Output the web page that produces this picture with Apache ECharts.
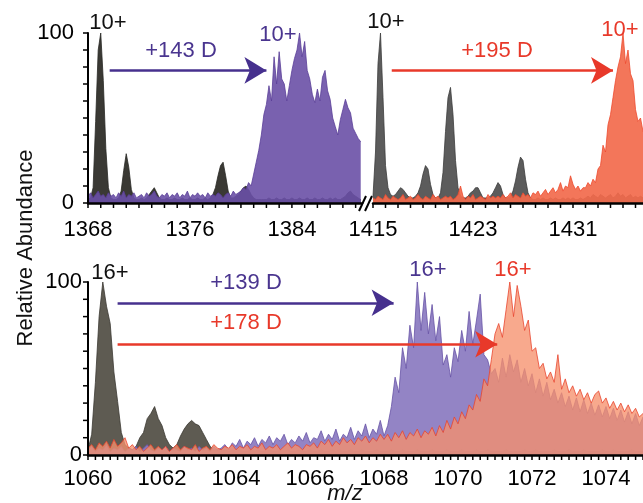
<!DOCTYPE html>
<html>
<head>
<meta charset="utf-8">
<script src="https://cdn.jsdelivr.net/npm/echarts@6/dist/echarts.min.js"></script>
<style>
  html, body { margin: 0; padding: 0; background: #fff; }
  #chart { width: 643px; height: 503px; }
</style>
</head>
<body>
<div id="chart"></div>
<script>
'use strict';

// 谱图数据 — 每个数组按固定步长从起点开始
var tlStart = 1368, tlStep = 0.2;
var tlBlack = [
  2,3,9,48,90,100,72,32,9,3,
  2,2,3,7,19,29,21,8,3,2,
  2,3,2,3,5,7,9,6,3,2,
  2,3,2,2,3,2,2,3,2,2,
  3,2,2,3,2,2,3,2,3,5,
  9,16,22,24,16,7,3,3,4,5,
  7,9,10,8,5,3,2,2,2,2,
  2,3,2,2,3,2,2,3,2,2,
  3,2,2,3,2,2,3,2,2,3,
  2,2,3,2,2,3,2,3,2,2,
  3,4,6,7,5,4,3,2
];
var tlPurple = [
  4,6,3,5,7,4,5,3,6,4,
  5,3,6,4,7,3,5,4,6,3,
  4,5,3,6,4,5,7,4,3,5,
  4,6,3,5,4,6,3,5,4,7,
  3,5,4,6,4,5,3,6,4,5,
  4,6,5,3,5,6,4,7,5,6,
  7,9,8,12,10,17,24,31,40,52,
  58,69,60,86,70,89,73,70,60,69,
  78,85,90,100,86,95,78,73,64,59,
  67,60,74,78,66,61,50,45,40,49,
  55,61,56,53,44,41,38,36
];

var trStart = 1415, trStep = 0.2;
var trBlack = [
  4,30,82,100,62,22,9,5,4,5,
  7,9,8,6,4,3,3,4,6,10,
  17,22,20,11,5,3,3,6,18,42,
  62,68,52,25,9,4,3,3,4,6,
  7,9,9,6,3,3,3,4,6,9,
  12,10,5,3,3,4,7,13,21,27,
  25,14,6,3,2,2,3,2,3,2,
  2,3,2,3,2,2,3,2,3,2,
  3,2,2,3,2,3,4,3,5,4,
  3,5,4,3,4,5,3,4,6,4,
  5,3,4,5,3,4,3,4,3
];
var trRed = [
  3,2,4,3,2,5,3,2,4,3,
  2,3,5,2,3,4,2,3,5,3,
  2,4,3,2,5,3,4,2,3,4,
  3,4,2,3,5,10,4,2,4,3,
  5,2,3,4,3,2,5,3,4,3,
  4,3,5,3,4,6,3,5,4,3,
  6,4,5,3,6,5,7,4,6,8,
  5,7,9,6,8,12,7,10,9,16,
  11,8,10,7,9,9,12,10,14,12,
  20,22,34,30,46,52,62,72,80,86,
  100,82,90,76,72,55,48,50,42
];

var btStart = 1060, btStep = 0.1;
var btBlack = [
  3,12,42,80,100,86,76,48,31,13,
  6,4,3,5,10,13,21,24,28,21,
  17,10,6,4,6,11,15,18,20,18,
  17,13,9,5,3,3,2,3,2,3,
  2,3,2,2,3,2,3,2,2,3,
  2,2,3,2,3,2,2,3,2,2,
  3,2,2,3,2,2,3,2,3,2,
  2,3,2,2,3,2,2,2,3,2,
  2,2,3,2,2,3,2,2,2,3,
  2,2,2,3,2,2,2,3,2,2,
  2,3,2,2,2,3,2,2,3,2,
  2,2,2,3,2,2,2,2,3,2,
  2,3,2,2,2,2,3,2,2,2,
  3,2,2,2,3,2,2,2,2,3,
  2,2,3,2,2,2,2,3,2,2,
  2
];
var btPurple = [
  3,5,2,4,3,6,2,4,3,5,
  2,4,3,5,2,4,6,3,2,4,
  3,5,2,4,3,2,5,3,4,2,
  5,3,4,2,5,3,4,6,3,7,
  5,9,4,8,6,10,5,9,7,11,
  6,10,8,12,6,9,7,11,8,13,
  7,10,9,14,8,12,9,15,8,12,
  10,16,9,14,11,18,10,15,12,20,
  11,17,28,45,36,62,50,75,62,100,
  72,94,70,87,66,80,52,58,45,62,
  54,72,60,83,64,78,93,58,55,47,
  50,42,56,45,58,48,55,42,50,40,
  47,36,44,34,42,32,38,30,36,28,
  34,26,33,25,32,24,30,23,29,22,
  28,21,27,20,26,19,25,18,24,17,
  22
];
var btRed = [
  4,6,3,7,5,8,4,9,5,7,
  10,4,6,3,5,2,4,6,3,5,
  3,5,2,4,6,3,5,4,3,6,
  2,4,5,3,6,4,3,5,4,6,
  3,5,4,6,3,5,4,7,3,5,
  4,6,3,5,7,4,6,5,3,6,
  5,7,4,8,6,9,5,8,6,10,
  7,9,6,10,8,11,7,10,8,12,
  9,12,8,13,10,14,9,13,11,15,
  10,14,12,16,11,17,13,20,15,22,
  18,25,21,29,26,35,31,44,40,55,
  70,76,68,84,100,80,98,86,72,78,
  60,62,50,53,44,48,42,58,38,44,
  36,40,34,38,32,36,30,35,37,30,
  33,27,31,26,30,25,29,24,27,22,
  24
];

// 箭头 (m/z 起点, m/z 箭尖, 高度)
var arrowTL = [1369.7, 1382.0, 78];
var arrowTR = [1416.5, 1434.2, 78];
var arrowBP = [1060.8, 1068.26, 88];
var arrowBR = [1060.8, 1071.06, 64];

// 刻度 (轴, 序号, 起点, 终点, 步长)
var tickSpecs = [
  ['x', 0, 1368, 1389.5, 1],
  ['x', 1, 1415, 1436.6, 1],
  ['x', 2, 1060, 1075, 0.2],
  ['y', 0, 0, 100, 10],
  ['y', 2, 0, 100, 10]
];

var FONT = '"Liberation Sans", Arial, Helvetica, sans-serif';
var PURPLE_TXT = '#4a358f';
var RED_TXT = '#e8392a';

function toPairs(start, step, vals) {
  return vals.map(function (v, i) {
    return [+(start + i * step).toFixed(2), v];
  });
}

function plain(v) {
  return String(v);
}

function xAx(idx, min, max, interval, margin) {
  return {
    type: 'value', gridIndex: idx, min: min, max: max, interval: interval, z: 10,
    axisLine: { show: true, onZero: false, lineStyle: { color: '#000', width: 2.5 } },
    axisTick: { show: false },
    axisLabel: { fontSize: 22, color: '#000', margin: margin, showMaxLabel: false, fontFamily: FONT, formatter: plain },
    splitLine: { show: false }
  };
}

function yAx(idx, show, margin) {
  return {
    type: 'value', gridIndex: idx, min: 0, max: 100, interval: 100, show: show, z: 10,
    axisLine: { show: true, lineStyle: { color: '#000', width: 2 } },
    axisTick: { show: false },
    axisLabel: { fontSize: 22, color: '#000', margin: margin, fontFamily: FONT, formatter: plain },
    splitLine: { show: false }
  };
}

function spec(name, idx, data, line, fill, op, z, arrow, arrowColor) {
  var s = {
    name: name, type: 'line', xAxisIndex: idx, yAxisIndex: idx,
    data: data, symbol: 'none', showSymbol: false, z: z,
    lineStyle: { color: line, width: 0.8 },
    areaStyle: { color: fill, opacity: op }
  };
  if (arrow) {
    s.markLine = {
      silent: true, symbol: ['none', 'arrow'], symbolSize: [20, 22],
      label: { show: false },
      lineStyle: { color: arrowColor, width: 2.5, type: 'solid' },
      data: [[{ coord: [arrow[0], arrow[2]] }, { coord: [arrow[1], arrow[2]] }]]
    };
  }
  return s;
}

function txt(text, x, y, color, extra) {
  var t = {
    type: 'text', x: x, y: y, z: 100,
    style: { text: text, fill: color, font: '22px ' + FONT, align: 'center', verticalAlign: 'middle' }
  };
  if (extra) {
    for (var k in extra) t[k] = extra[k];
  }
  return t;
}

var myChart = echarts.init(document.getElementById('chart'));

var graphics = [
  txt('10+', 108, 23, '#111'),
  txt('+143 D', 181, 51, PURPLE_TXT),
  txt('10+', 278, 35, PURPLE_TXT),
  txt('10+', 386, 22, '#111'),
  txt('+195 D', 497, 51, RED_TXT),
  txt('10+', 620, 30, RED_TXT),
  txt('16+', 110, 273, '#111'),
  txt('+139 D', 246, 283, PURPLE_TXT),
  txt('+178 D', 246, 323, RED_TXT),
  txt('16+', 428, 270, PURPLE_TXT),
  txt('16+', 513, 270, RED_TXT),
  txt('Relative Abundance', 26, 248, '#111', { rotation: Math.PI / 2 }),
  {
    type: 'text', x: 345, y: 494, z: 100,
    style: { text: 'm/z', fill: '#111', font: 'italic 22px ' + FONT, align: 'center', verticalAlign: 'middle' }
  },
  // 断轴标记
  { type: 'line', z: 100, shape: { x1: 359, y1: 211, x2: 366, y2: 196 }, style: { stroke: '#000', lineWidth: 2 } },
  { type: 'line', z: 100, shape: { x1: 365, y1: 211, x2: 372, y2: 196 }, style: { stroke: '#000', lineWidth: 2 } }
];

var option = {
  animation: false,
  textStyle: { fontFamily: FONT },
  grid: [
    { left: 88, right: 281, top: 33, height: 170 },
    { left: 373, right: 0, top: 33, height: 170 },
    { left: 88, right: 0, top: 282, height: 173 }
  ],
  xAxis: [
    xAx(0, 1368, 1389.5, 8, 16),
    xAx(1, 1415, 1436.6, 8, 16),
    xAx(2, 1060, 1075, 2, 13)
  ],
  yAxis: [
    yAx(0, true, 14),
    yAx(1, false, 14),
    yAx(2, true, 6)
  ],
  series: [
    spec('tlBlack', 0, toPairs(tlStart, tlStep, tlBlack), '#2a2a26', '#3a3934', 1, 2),
    spec('tlPurple', 0, toPairs(tlStart, tlStep, tlPurple), '#5a3f98', '#6a50a6', 0.9, 3, arrowTL, '#46308e'),
    spec('trBlack', 1, toPairs(trStart, trStep, trBlack), '#3c3c3c', '#5c5c5c', 1, 2),
    spec('trRed', 1, toPairs(trStart, trStep, trRed), '#ee4a2e', '#f26a4c', 0.92, 3, arrowTR, RED_TXT),
    spec('btBlack', 2, toPairs(btStart, btStep, btBlack), '#3c3a34', '#5e5b52', 1, 2),
    spec('btPurple', 2, toPairs(btStart, btStep, btPurple), '#6753a6', '#8a79c0', 0.92, 3, arrowBP, '#46308e'),
    spec('btRed', 2, toPairs(btStart, btStep, btRed), '#e9452f', '#f6916d', 0.78, 4, arrowBR, RED_TXT)
  ],
  graphic: graphics
};

myChart.setOption(option);

// 刻度线: 由坐标轴换算像素位置后补画
var tickMarks = [];
tickSpecs.forEach(function (t) {
  var n = Math.floor((t[3] - t[2]) / t[4] + 1e-6);
  for (var i = 0; i <= n; i++) {
    var v = t[2] + i * t[4];
    if (t[0] === 'x') {
      var px = myChart.convertToPixel({ xAxisIndex: t[1] }, v);
      var py = myChart.convertToPixel({ yAxisIndex: t[1] }, 0);
      tickMarks.push({ type: 'line', z: 50, shape: { x1: px, y1: py, x2: px, y2: py + 5 },
        style: { stroke: '#000', lineWidth: 1.5 } });
    } else {
      var qy = myChart.convertToPixel({ yAxisIndex: t[1] }, v);
      var qx = myChart.convertToPixel({ xAxisIndex: t[1] }, t[1] === 0 ? tlStart : btStart);
      tickMarks.push({ type: 'line', z: 50, shape: { x1: qx - 5, y1: qy, x2: qx, y2: qy },
        style: { stroke: '#000', lineWidth: 1.5 } });
    }
  }
});
myChart.setOption({ graphic: graphics.concat(tickMarks) });
</script>
</body>
</html>
